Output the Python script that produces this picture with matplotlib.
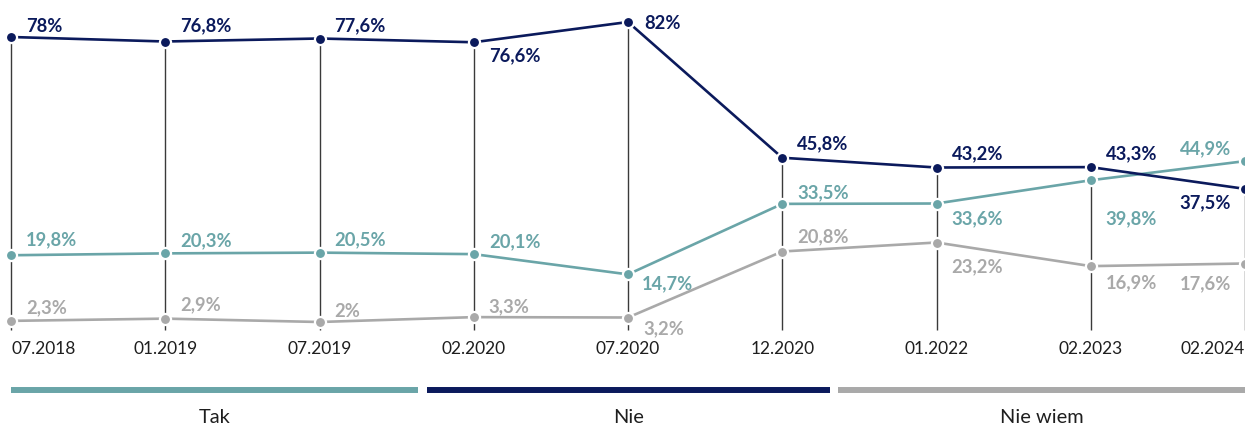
import matplotlib
matplotlib.use("Agg")
import matplotlib.pyplot as plt
from matplotlib.transforms import Affine2D

# ---- data ----
periods = ["07.2018", "01.2019", "07.2019", "02.2020", "07.2020",
           "12.2020", "01.2022", "02.2023", "02.2024"]
series_names = ["Tak", "Nie", "Nie wiem"]
tak = [19.8, 20.3, 20.5, 20.1, 14.7, 33.5, 33.6, 39.8, 44.9]
nie = [78.0, 76.8, 77.6, 76.6, 82.0, 45.8, 43.2, 43.3, 37.5]
nie_wiem = [2.3, 2.9, 2.0, 3.3, 3.2, 20.8, 23.2, 16.9, 17.6]

# ---- style ----
C_TAK = "#6aa5a8"
C_NIE = "#0b1a5c"
C_NW = "#a9a9a9"
TXT = "#1e1e1e"
FONT = "Lato"

W, H = 1245, 426
fig = plt.figure(figsize=(W / 100, H / 100), dpi=100)
ax = fig.add_axes([0, 0, 1, 1])
ax.axis("off")

# pixel <-> data mapping of the reference
x0_px, step_px = 11.0, 154.25
y_top_val, y_top_px, px_per_unit = 82.0, 22.0, 3.75
ax.set_xlim(-x0_px / step_px, (W - x0_px) / step_px)
ax.set_ylim(y_top_val - (H - y_top_px) / px_per_unit,
            y_top_val + y_top_px / px_per_unit)

# transform in figure pixels, y measured from the top
pix = Affine2D().scale(1 / W, -1 / H).translate(0, 1) + fig.transFigure

xs = list(range(len(periods)))

# vertical guide lines
bottom_val = y_top_val - (330 - y_top_px) / px_per_unit
ax.vlines(xs, bottom_val, nie, color="#3a3a3a", lw=1.0, zorder=1)

series = [(tak, C_TAK), (nie, C_NIE), (nie_wiem, C_NW)]
for vals, col in series:
    ax.plot(xs, vals, color=col, lw=1.9, zorder=3, solid_capstyle="round",
            marker="o", markersize=8, markerfacecolor=col,
            markeredgecolor="white", markeredgewidth=1.6, clip_on=False)

# label offsets in pixels (dx, dy downward); negative dx -> right aligned
off_tak = [(15, -10), (15, -7), (15, -7), (15, -7), (14, 15),
           (15, -6), (15, 21), (15, 44), (-14, -7)]
off_nie = [(15, -5), (15, -10), (15, -7), (15, 19), (16, 7),
           (15, -8), (15, -8), (15, -8), (-14, 19)]
off_nw = [(15, -8), (15, -8), (15, -5), (15, -5), (15, 17),
          (15, -9), (15, 30), (15, 22), (-14, 26)]

def fmt(v):
    s = f"{v:.1f}".rstrip("0").rstrip(".")
    return s.replace(".", ",") + "%"

for (vals, col), offs in zip(series, [off_tak, off_nie, off_nw]):
    for x, v, (dx, dy) in zip(xs, vals, offs):
        ax.annotate(fmt(v), (x, v), xytext=(dx, -dy),
                    textcoords="offset pixels",
                    ha="left" if dx > 0 else "right", va="baseline",
                    fontsize=13.2, fontweight="bold", color=col,
                    family=FONT, zorder=5, annotation_clip=False)

# x tick labels
for i, lab in enumerate(periods):
    xp = x0_px + i * step_px
    ha = "center"
    if i == 0:
        ha = "left"
    elif i == len(periods) - 1:
        ha = "right"
        xp = W
    fig.text(xp, 354, lab, transform=pix, ha=ha, va="baseline",
             fontsize=12.5, color=TXT, family=FONT)

# legend bars
legend_spans = [(11, 418), (427, 830), (838, 1245)]
for name, col, (a, b) in zip(series_names, [C_TAK, C_NIE, C_NW], legend_spans):
    fig.add_artist(plt.Line2D([a, b], [390, 390], transform=pix, color=col,
                              lw=4.3, solid_capstyle="butt"))
    fig.text((a + b) / 2, 423, name, transform=pix, ha="center",
             va="baseline", fontsize=14.4, color=TXT, family=FONT)

fig.savefig("out.png", dpi=100)
